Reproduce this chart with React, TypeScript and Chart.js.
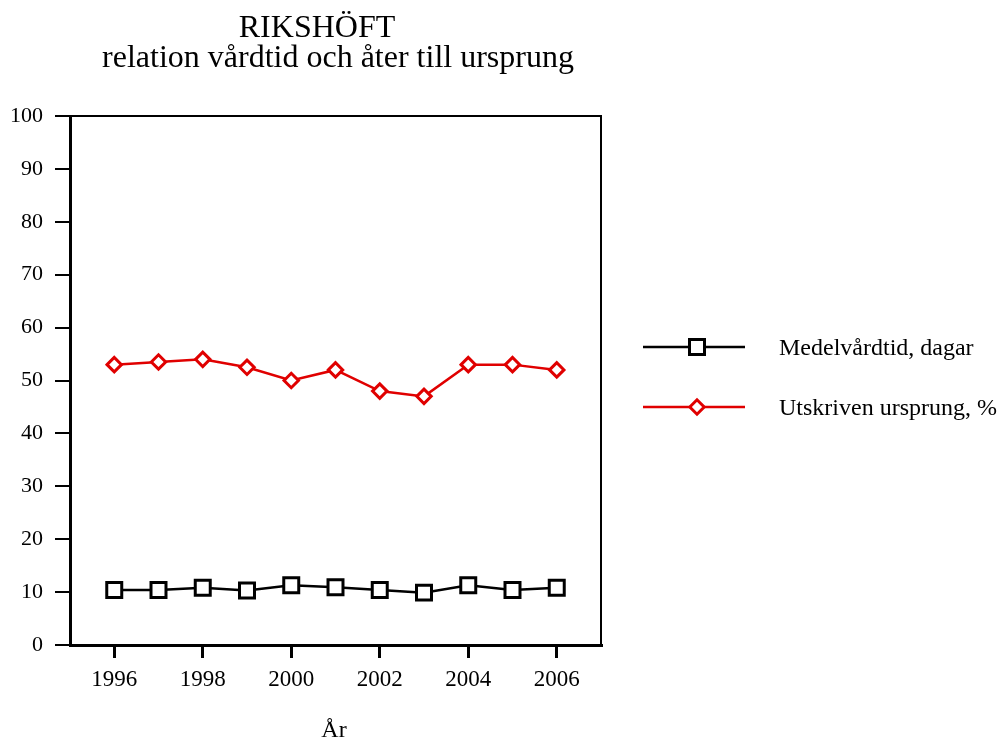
import React, { useEffect, useRef } from 'react';
import { Chart, registerables } from 'chart.js';

Chart.register(...registerables);

const FONT = '"Liberation Serif", "Times New Roman", serif';

const titleLines = ['RIKSHÖFT', 'relation vårdtid och åter till ursprung'];
const xTitle = 'År';
const years = [1996, 1997, 1998, 1999, 2000, 2001, 2002, 2003, 2004, 2005, 2006];
const xTickValues = [1996, 1998, 2000, 2002, 2004, 2006];
const medelvardtid = [10.4, 10.4, 10.8, 10.3, 11.3, 10.9, 10.4, 9.9, 11.3, 10.4, 10.8];
const utskriven = [53, 53.5, 54, 52.5, 50, 52, 48, 47, 53, 53, 52];
const seriesLabels = ['Medelvårdtid, dagar', 'Utskriven ursprung, %'];

const BLACK = '#000000';
const RED = '#e00000';

export default function App() {
  const ref = useRef<HTMLCanvasElement>(null);

  useEffect(() => {
    const canvas = ref.current;
    if (!canvas) return;

    const drawMarker = (ctx: CanvasRenderingContext2D, style: string, x: number, y: number, color: string) => {
      ctx.save();
      ctx.fillStyle = '#ffffff';
      ctx.strokeStyle = color;
      ctx.lineWidth = 3;
      ctx.beginPath();
      if (style === 'rect') {
        const s = 7.5;
        ctx.rect(x - s, y - s, 2 * s, 2 * s);
      } else {
        const r = 7.2;
        ctx.moveTo(x - r, y);
        ctx.lineTo(x, y - r);
        ctx.lineTo(x + r, y);
        ctx.lineTo(x, y + r);
        ctx.closePath();
      }
      ctx.fill();
      ctx.stroke();
      ctx.restore();
    };

    const decorPlugin = {
      id: 'decor',
      afterDraw(chart: any) {
        const { ctx, chartArea: a } = chart;
        ctx.save();
        // top and right frame
        ctx.strokeStyle = BLACK;
        ctx.lineWidth = 2;
        ctx.beginPath();
        ctx.moveTo(a.left, a.top);
        ctx.lineTo(a.right, a.top);
        ctx.lineTo(a.right, a.bottom);
        ctx.stroke();

        // titles
        ctx.fillStyle = BLACK;
        ctx.textAlign = 'center';
        ctx.textBaseline = 'alphabetic';
        ctx.font = `32px ${FONT}`;
        ctx.fillText(titleLines[0], 317, 37);
        ctx.fillText(titleLines[1], 338, 67);
        ctx.font = `24px ${FONT}`;
        ctx.fillText(xTitle, 334, 737);

        // legend
        const legendY = [347, 407];
        const legendStyles = ['rect', 'rectRot'];
        chart.data.datasets.forEach((ds: any, i: number) => {
          const y = legendY[i];
          ctx.strokeStyle = ds.borderColor;
          ctx.lineWidth = 2.5;
          ctx.beginPath();
          ctx.moveTo(643, y);
          ctx.lineTo(745, y);
          ctx.stroke();
          drawMarker(ctx, legendStyles[i], 697, y, ds.borderColor);
          ctx.fillStyle = BLACK;
          ctx.textAlign = 'left';
          ctx.font = `24px ${FONT}`;
          ctx.fillText(ds.label, 779, y + 8);
        });
        ctx.restore();
      },
    };

    const chart = new Chart(canvas, {
      type: 'line',
      data: {
        datasets: [
          {
            label: seriesLabels[0],
            data: years.map((yr, i) => ({ x: yr, y: medelvardtid[i] })),
            borderColor: BLACK,
            backgroundColor: '#ffffff',
            borderWidth: 2.5,
            pointStyle: 'rect',
            pointRadius: 10.6,
            pointBorderWidth: 3,
            pointBackgroundColor: '#ffffff',
            pointBorderColor: BLACK,
          },
          {
            label: seriesLabels[1],
            data: years.map((yr, i) => ({ x: yr, y: utskriven[i] })),
            borderColor: RED,
            backgroundColor: '#ffffff',
            borderWidth: 2.5,
            pointStyle: 'rectRot',
            pointRadius: 7.2,
            pointBorderWidth: 3,
            pointBackgroundColor: '#ffffff',
            pointBorderColor: RED,
          },
        ],
      },
      options: {
        responsive: false,
        animation: false,
        layout: { padding: { top: 116, right: 402, left: 0, bottom: 0 } },
        plugins: {
          legend: { display: false },
          title: { display: false },
          tooltip: { enabled: false },
        },
        scales: {
          x: {
            type: 'linear',
            min: 1995,
            max: 2007,
            afterBuildTicks: (scale: any) => {
              scale.ticks = xTickValues.map((v) => ({ value: v }));
            },
            afterFit: (scale: any) => {
              scale.height = 95;
            },
            grid: {
              drawOnChartArea: false,
              drawTicks: true,
              tickLength: 13,
              color: BLACK,
              lineWidth: 3,
            },
            border: { display: true, color: BLACK, width: 3 },
            ticks: {
              color: BLACK,
              font: { family: FONT, size: 23 },
              padding: 8,
              maxRotation: 0,
              autoSkip: false,
              callback: (v: any) => String(v),
            },
          },
          y: {
            min: 0,
            max: 100,
            afterFit: (scale: any) => {
              scale.width = 70;
            },
            grid: {
              drawOnChartArea: false,
              drawTicks: true,
              tickLength: 15,
              color: BLACK,
              lineWidth: 2,
            },
            border: { display: true, color: BLACK, width: 3 },
            ticks: {
              stepSize: 10,
              color: BLACK,
              font: { family: FONT, size: 22 },
              padding: 12,
            },
          },
        },
      },
      plugins: [decorPlugin],
    } as any);

    return () => chart.destroy();
  }, []);

  return (
    <div style={{ position: 'absolute', left: 0, top: 0, width: 1003, height: 740, background: '#ffffff' }}>
      <canvas ref={ref} width={1003} height={740} style={{ display: 'block' }} />
    </div>
  );
}
